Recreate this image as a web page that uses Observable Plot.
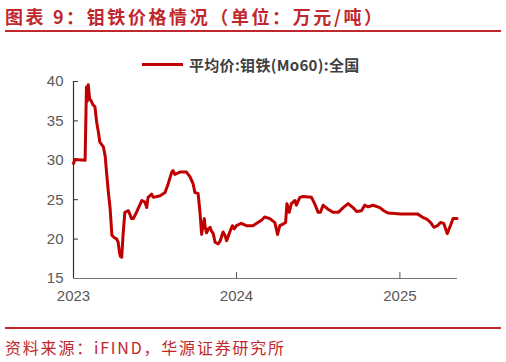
<!DOCTYPE html>
<html>
<head>
<meta charset="utf-8">
<script src="https://cdn.jsdelivr.net/npm/d3@7"></script>
<script src="https://cdn.jsdelivr.net/npm/@observablehq/plot@0.6"></script>
<style>
  html, body { margin: 0; padding: 0; background: #fff; width: 506px; height: 362px; overflow: hidden; }
  #wrap { position: relative; width: 506px; height: 362px; }
  .title { position: absolute; left: 5px; top: 5px; font-family: "Noto Sans CJK SC", sans-serif; font-weight: bold; font-size: 18px; color: #c0282d; letter-spacing: 2.6px; white-space: nowrap; line-height: 22px; }
  .rule { position: absolute; left: 5px; width: 496px; height: 2px; background: #c0282d; }
  .legend { position: absolute; left: 142px; top: 54px; display: flex; align-items: center; font-family: "Noto Sans CJK SC", sans-serif; font-weight: bold; font-size: 15px; color: #404040; white-space: nowrap; letter-spacing: 0.3px; }
  .legend .sw { width: 41px; height: 3px; background: #c00000; margin-right: 6px; }
  .caption { position: absolute; left: 5px; top: 337px; font-family: "Noto Sans CJK SC", sans-serif; font-size: 16px; color: #c0282d; letter-spacing: 1.8px; white-space: nowrap; line-height: 20px; }
  #chart { position: absolute; left: 0; top: 40px; }
</style>
</head>
<body>
<div id="wrap">
  <div class="title">图表 9：钼铁价格情况（单位：万元/吨）</div>
  <div class="rule" style="top:30px"></div>
  <div class="legend"><span class="sw"></span><span>平均价:钼铁(Mo60):全国</span></div>
  <div id="chart"></div>
  <div class="rule" style="top:327px"></div>
  <div class="caption">资料来源：iFIND，华源证券研究所</div>
</div>
<script>
const dates = [
  "2023-01-01","2023-01-04","2023-01-27","2023-01-30","2023-02-01","2023-02-03","2023-02-06","2023-02-09",
  "2023-02-14","2023-02-18","2023-02-22","2023-02-26","2023-03-01","2023-03-09","2023-03-13","2023-03-16",
  "2023-03-20","2023-03-24","2023-03-28","2023-04-02","2023-04-08","2023-04-11","2023-04-14","2023-04-16",
  "2023-04-19","2023-04-22","2023-04-26","2023-05-04","2023-05-07","2023-05-11","2023-05-15","2023-05-22",
  "2023-06-03","2023-06-10","2023-06-14","2023-06-17","2023-06-21","2023-06-25","2023-06-29","2023-07-14",
  "2023-07-25","2023-08-01","2023-08-09","2023-08-12","2023-08-16","2023-08-27","2023-09-11","2023-09-19",
  "2023-09-26","2023-09-30","2023-10-07","2023-10-11","2023-10-15","2023-10-18","2023-10-21","2023-10-23",
  "2023-10-26","2023-10-30","2023-11-03","2023-11-06","2023-11-10","2023-11-14","2023-11-21","2023-11-25",
  "2023-12-02","2023-12-06","2023-12-10","2023-12-17","2023-12-23","2023-12-27","2024-01-01","2024-01-12",
  "2024-01-23","2024-02-07","2024-02-18","2024-02-26","2024-03-04","2024-03-16","2024-03-27","2024-04-02",
  "2024-04-07","2024-04-14","2024-04-20","2024-04-23","2024-04-28","2024-05-03","2024-05-11","2024-05-14",
  "2024-05-22","2024-05-29","2024-06-17","2024-06-24","2024-07-02","2024-07-07","2024-07-13","2024-07-24",
  "2024-08-04","2024-08-16","2024-08-27","2024-09-07","2024-09-18","2024-09-26","2024-10-07","2024-10-14",
  "2024-10-22","2024-11-02","2024-11-17","2024-11-26","2024-12-06","2025-01-03","2025-02-09","2025-02-20",
  "2025-03-03","2025-03-11","2025-03-18","2025-03-26","2025-04-02","2025-04-09","2025-04-17","2025-04-24",
  "2025-04-30","2025-05-09"
];
const prices = [
  29.6,30.1,30.0,39.3,37.5,39.6,37.8,37.6,
  37.0,36.8,34.8,33.5,32.3,31.7,30.5,28.5,
  26.0,23.9,20.5,20.2,20.0,19.6,18.3,17.8,
  17.7,20.5,23.4,23.6,23.2,22.6,22.6,23.4,
  24.9,24.7,24.0,25.3,25.5,25.7,25.3,25.5,
  25.9,27.0,28.5,28.7,28.2,28.5,28.5,27.9,
  27.0,25.9,25.8,23.6,20.6,21.8,22.6,21.5,
  20.8,21.3,21.5,21.0,20.7,19.6,19.4,19.7,
  20.9,20.5,19.8,20.9,21.7,21.3,21.7,22.0,
  21.7,21.7,22.1,22.4,22.8,22.6,22.1,20.6,
  21.7,21.9,22.1,24.5,23.4,24.5,24.9,24.3,
  25.3,25.4,25.3,24.5,23.4,23.4,24.3,23.8,
  23.4,23.4,24.0,24.5,24.0,23.5,23.6,24.3,
  24.1,24.3,24.0,23.6,23.3,23.2,23.2,22.8,
  22.5,22.1,21.5,21.7,22.1,22.0,20.7,21.7,
  22.6,22.6
];
const yTicks = [15, 20, 25, 30, 35, 40];
const xTickLabels = ["2023", "2024", "2025"];
const xStart = "2023-01-01";
const xEnd = "2025-05-10";

const parse = d3.utcParse("%Y-%m-%d");
const data = dates.map((d, i) => ({date: parse(d), value: prices[i]}));
const xTicks = xTickLabels.map(y => parse(y + "-01-01"));

const W = 506, H = 270, mL = 73, mR = 49, mT = 41, mB = 32;
const plotW = W - mL - mR, plotH = H - mT - mB;

const chart = Plot.plot({
  width: W, height: H,
  marginLeft: mL, marginRight: mR, marginTop: mT, marginBottom: mB,
  style: {fontFamily: "Liberation Sans, Arial, sans-serif", fontSize: "15px", color: "#595959", background: "transparent"},
  x: {type: "utc", domain: [parse(xStart), parse(xEnd)], label: null},
  y: {domain: [15, 40], label: null},
  marks: [
    Plot.axisY({ticks: yTicks, tickSize: 0, tickPadding: 10, tickFormat: d => String(d), fill: "#595959", label: null}),
    Plot.axisX({ticks: xTicks, tickSize: 0, tickPadding: 12, tickFormat: d3.utcFormat("%Y"), fill: "#595959", label: null}),
    Plot.tickY(yTicks, {y: d => d, stroke: "#333", strokeWidth: 1, insetRight: plotW - 5}),
    Plot.tickX(xTicks.slice(1), {x: d => d, stroke: "#555", strokeWidth: 1, insetTop: plotH - 6}),
    Plot.ruleX([parse(xStart)], {stroke: "#333", strokeWidth: 1.2}),
    Plot.ruleY([15], {stroke: "#777", strokeWidth: 1.2}),
    Plot.line(data, {x: "date", y: "value", stroke: "#c00000", strokeWidth: 3, strokeLinejoin: "round", curve: "linear"})
  ]
});
document.getElementById("chart").appendChild(chart);
</script>
</body>
</html>
